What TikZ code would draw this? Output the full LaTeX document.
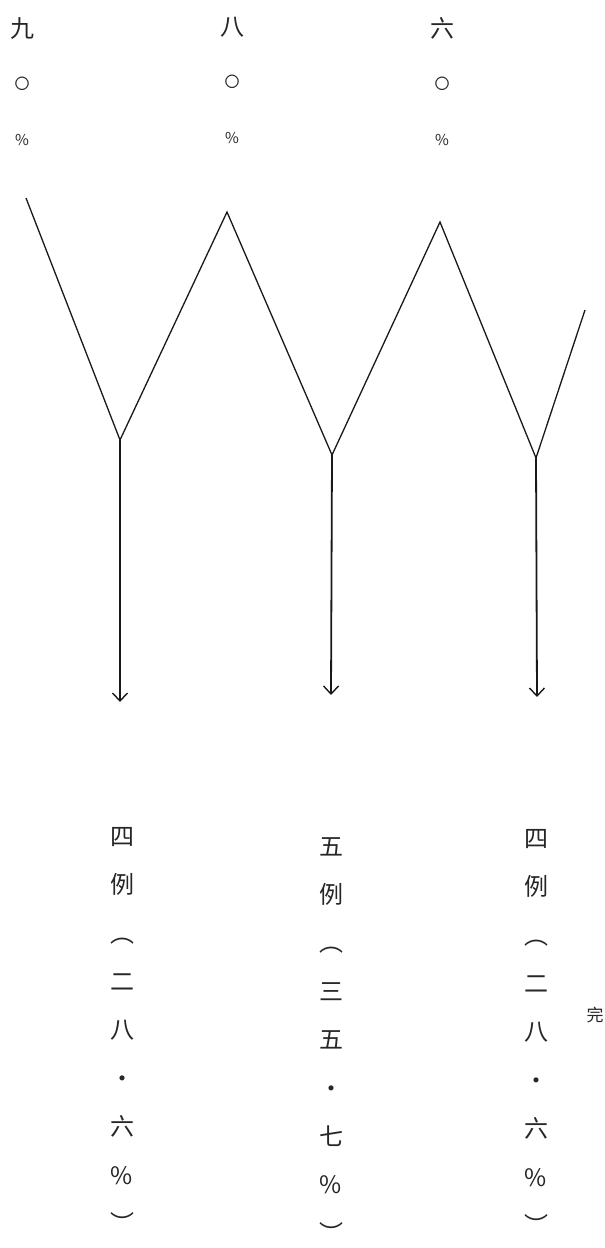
\documentclass[tikz,border=0pt]{standalone}
\usepackage{fontspec}
\newfontfamily\cjk{Noto Sans CJK SC}
\usetikzlibrary{arrows.meta}
\newcommand{\smallch}[1]{{\fontsize{15}{56}\selectfont #1}}
\begin{document}
\begin{tikzpicture}[x=1pt,y=-1pt,
  toplabel/.style={font=\cjk\fontsize{24}{56}\selectfont, align=center, inner sep=0pt, anchor=north, text=black!85},
  botlabel/.style={font=\cjk\fontsize{24}{48.4}\selectfont, align=center, inner sep=0pt, anchor=north, text=black!85},
  zig/.style={line width=1.3pt, black!90, line join=miter},
  down/.style={line width=1.8pt, black!90, -{Straight Barb[length=8pt,width=15pt,line width=1.4pt]}}]
\useasboundingbox (0,0) rectangle (605,1248);
% top labels
\node[toplabel] (t1) at (22,17) {九\\[-4pt]\smallch{〇}\\\smallch{\%}};
\node[toplabel] (t2) at (232,17) {八\\[-4pt]\smallch{〇}\\\smallch{\%}};
\node[toplabel] (t3) at (442,17) {六\\[-4pt]\smallch{〇}\\\smallch{\%}};
% zigzag vertices
\coordinate (z0) at (26,198);
\coordinate (v1) at (120,440);
\coordinate (p1) at (227,212);
\coordinate (v2) at (332,455);
\coordinate (p2) at (440,222);
\coordinate (v3) at (536,458);
\coordinate (z7) at (585,310);
\draw[zig] (z0) -- (v1) -- (p1) -- (v2) -- (p2) -- (v3) -- (z7);
% arrow ends
\coordinate (a1) at (120,702);
\coordinate (a2) at (331,695);
\coordinate (a3) at (537,697);
\draw[down] (v1) -- (a1);
\draw[down] (v2) -- (a2);
\draw[down] (v3) -- (a3);
% bottom labels
\node[botlabel] (b1) at (122,827) {四\\例\\︵\\二\\八\\·\\六\\\%\\︶};
\node[botlabel] (b2) at (331,837) {五\\例\\︵\\三\\五\\·\\七\\\%\\︶};
\node[botlabel] (b3) at (536,829) {四\\例\\︵\\二\\八\\·\\六\\\%\\︶};
\node[font=\cjk\fontsize{17}{17}\selectfont, inner sep=0pt, text=black!85] (end) at (595,1015) {完};
\end{tikzpicture}
\end{document}
